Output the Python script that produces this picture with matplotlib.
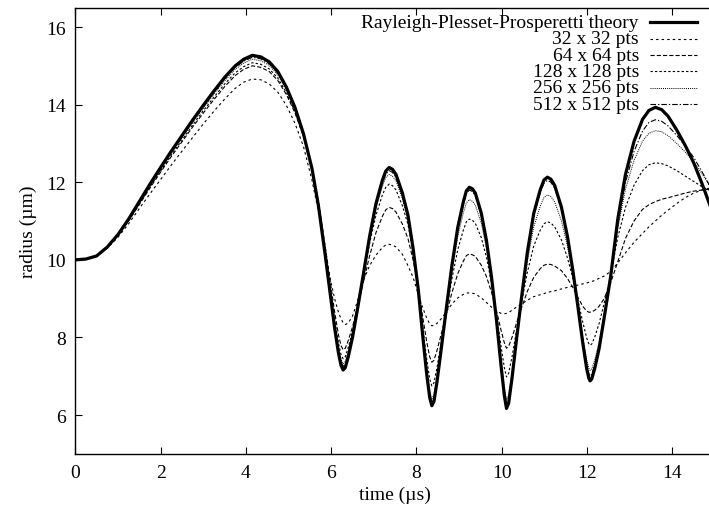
import matplotlib
matplotlib.use("Agg")
import matplotlib.pyplot as plt
from matplotlib.lines import Line2D

plt.rcParams["font.family"] = ["Liberation Serif", "DejaVu Serif"]
plt.rcParams["lines.scale_dashes"] = False

# time (us)
time_us = [
    0.0, 0.25, 0.5, 0.75, 1.0, 1.25, 1.5, 1.75, 2.0, 2.25, 2.5, 2.75, 3.0, 3.25, 3.5, 3.75, 3.95, 4.15,
    4.35, 4.55, 4.75, 4.95, 5.15, 5.35, 5.55, 5.7, 5.85, 5.98, 6.08, 6.17, 6.23, 6.28,
    6.33, 6.4, 6.5, 6.62, 6.75, 6.9, 7.05, 7.2, 7.28, 7.36,
    7.44, 7.52, 7.67, 7.8, 7.92, 8.04, 8.15, 8.24, 8.31, 8.36,
    8.41, 8.48, 8.58, 8.7, 8.83, 8.97, 9.1, 9.17, 9.24,
    9.31, 9.38, 9.52, 9.64, 9.76, 9.88, 9.98, 10.06, 10.11,
    10.16, 10.24, 10.34, 10.46, 10.6, 10.75, 10.9, 10.99, 11.07,
    11.15, 11.24, 11.4, 11.54, 11.67, 11.79, 11.9, 11.99, 12.04, 12.07,
    12.11, 12.18, 12.28, 12.4, 12.55, 12.72, 12.9, 13.1, 13.3, 13.45, 13.6,
    13.75, 13.9, 14.1, 14.3, 14.5, 14.7, 14.85, 15.0,
]

# radius (um)
theory = [
    10.00, 10.02, 10.10, 10.33, 10.65, 11.05, 11.50, 11.95, 12.38, 12.80, 13.20, 13.60, 13.98, 14.35, 14.70, 15.00, 15.17, 15.27,
    15.23, 15.10, 14.85, 14.45, 13.93, 13.25, 12.35, 11.40, 10.20, 9.10, 8.25, 7.60, 7.28, 7.16,
    7.22, 7.50, 8.00, 8.75, 9.60, 10.60, 11.45, 12.05, 12.29, 12.38,
    12.33, 12.20, 11.72, 11.15, 10.30, 9.25, 8.00, 7.05, 6.45, 6.24,
    6.35, 6.85, 7.70, 8.75, 9.85, 10.85, 11.50, 11.78, 11.87,
    11.83, 11.72, 11.20, 10.50, 9.55, 8.40, 7.30, 6.50, 6.17,
    6.30, 6.95, 7.90, 9.00, 10.20, 11.20, 11.80, 12.06, 12.13,
    12.08, 11.92, 11.35, 10.60, 9.70, 8.75, 7.85, 7.20, 6.95, 6.88,
    6.93, 7.20, 7.70, 8.50, 9.55, 11.05, 12.20, 13.05, 13.62, 13.85, 13.93,
    13.87, 13.70, 13.35, 12.95, 12.50, 11.95, 11.50, 11.05,
]
res_32 = [
    10.00, 10.03, 10.10, 10.30, 10.58, 10.93, 11.32, 11.70, 12.07, 12.44, 12.80, 13.15, 13.50, 13.83, 14.14, 14.42, 14.58, 14.66,
    14.64, 14.53, 14.32, 13.98, 13.52, 12.92, 12.05, 11.25, 10.35, 9.50, 9.00, 8.65, 8.48, 8.38,
    8.33, 8.37, 8.55, 8.95, 9.45, 9.85, 10.12, 10.32, 10.38, 10.40,
    10.38, 10.33, 10.14, 9.85, 9.55, 9.12, 8.75, 8.50, 8.35, 8.30,
    8.31, 8.36, 8.48, 8.66, 8.86, 9.02, 9.11, 9.14, 9.15,
    9.14, 9.12, 9.02, 8.90, 8.78, 8.68, 8.62, 8.61, 8.62,
    8.64, 8.70, 8.78, 8.86, 8.96, 9.05, 9.10, 9.13, 9.16,
    9.18, 9.20, 9.25, 9.29, 9.32, 9.35, 9.38, 9.40, 9.42, 9.43,
    9.44, 9.47, 9.52, 9.58, 9.70, 9.92, 10.18, 10.45, 10.68, 10.85, 11.00,
    11.15, 11.28, 11.45, 11.60, 11.72, 11.80, 11.84, 11.86,
]
res_64 = [
    10.00, 10.02, 10.09, 10.31, 10.62, 11.00, 11.42, 11.85, 12.26, 12.66, 13.04, 13.42, 13.78, 14.13, 14.46, 14.75, 14.91, 15.00,
    14.96, 14.85, 14.62, 14.26, 13.79, 13.18, 12.36, 11.51, 10.42, 9.43, 8.66, 8.07, 7.79, 7.68,
    7.72, 7.92, 8.27, 8.80, 9.40, 10.10, 10.70, 11.12, 11.29, 11.35,
    11.32, 11.23, 10.92, 10.55, 10.00, 9.32, 8.50, 7.89, 7.50, 7.36,
    7.41, 7.66, 8.08, 8.60, 9.15, 9.65, 9.97, 10.11, 10.15,
    10.13, 10.09, 9.86, 9.57, 9.16, 8.67, 8.20, 7.86, 7.72,
    7.77, 8.00, 8.35, 8.75, 9.19, 9.55, 9.77, 9.86, 9.89,
    9.88, 9.84, 9.72, 9.52, 9.28, 9.02, 8.80, 8.68, 8.65, 8.65,
    8.66, 8.70, 8.80, 9.00, 9.40, 9.95, 10.55, 11.00, 11.30, 11.42, 11.50,
    11.56, 11.60, 11.66, 11.72, 11.77, 11.80, 11.82, 11.84,
]
res_128 = [
    10.00, 10.02, 10.10, 10.32, 10.63, 11.01, 11.45, 11.88, 12.29, 12.70, 13.08, 13.47, 13.84, 14.19, 14.53, 14.82, 14.98, 15.08,
    15.04, 14.92, 14.68, 14.31, 13.82, 13.18, 12.33, 11.44, 10.31, 9.27, 8.47, 7.86, 7.56, 7.45,
    7.50, 7.74, 8.17, 8.82, 9.55, 10.42, 11.15, 11.67, 11.87, 11.95,
    11.91, 11.80, 11.39, 10.91, 10.19, 9.30, 8.24, 7.44, 6.93, 6.75,
    6.83, 7.22, 7.87, 8.67, 9.51, 10.27, 10.77, 10.98, 11.05,
    11.02, 10.94, 10.57, 10.07, 9.39, 8.57, 7.79, 7.22, 6.98,
    7.07, 7.50, 8.14, 8.88, 9.68, 10.36, 10.76, 10.93, 10.98,
    10.95, 10.85, 10.51, 10.05, 9.51, 8.93, 8.39, 7.99, 7.84, 7.80,
    7.83, 8.01, 8.35, 8.88, 9.58, 10.58, 11.35, 11.92, 12.30, 12.45, 12.50,
    12.48, 12.42, 12.30, 12.16, 12.02, 11.88, 11.80, 11.72,
]
res_256 = [
    10.00, 10.02, 10.10, 10.32, 10.64, 11.03, 11.47, 11.91, 12.33, 12.75, 13.14, 13.53, 13.90, 14.27, 14.61, 14.91, 15.07, 15.17,
    15.13, 15.01, 14.76, 14.38, 13.87, 13.21, 12.34, 11.42, 10.26, 9.20, 8.37, 7.75, 7.44, 7.32,
    7.38, 7.64, 8.11, 8.81, 9.60, 10.54, 11.33, 11.89, 12.12, 12.20,
    12.15, 12.03, 11.58, 11.04, 10.24, 9.25, 8.08, 7.18, 6.62, 6.42,
    6.52, 6.98, 7.75, 8.71, 9.71, 10.62, 11.21, 11.47, 11.55,
    11.51, 11.41, 10.94, 10.31, 9.45, 8.41, 7.42, 6.70, 6.40,
    6.51, 7.09, 7.93, 8.90, 9.96, 10.85, 11.38, 11.61, 11.67,
    11.63, 11.49, 11.00, 10.35, 9.58, 8.76, 7.98, 7.43, 7.21, 7.15,
    7.19, 7.43, 7.87, 8.57, 9.49, 10.81, 11.82, 12.56, 13.06, 13.26, 13.33,
    13.30, 13.20, 13.00, 12.78, 12.52, 12.21, 11.95, 11.70,
]
res_512 = [
    10.00, 10.02, 10.10, 10.33, 10.64, 11.04, 11.49, 11.93, 12.36, 12.77, 13.17, 13.57, 13.94, 14.31, 14.66, 14.96, 15.12, 15.22,
    15.18, 15.05, 14.81, 14.41, 13.90, 13.23, 12.35, 11.42, 10.24, 9.15, 8.32, 7.68, 7.37, 7.25,
    7.31, 7.58, 8.06, 8.79, 9.61, 10.58, 11.40, 11.98, 12.21, 12.30,
    12.25, 12.12, 11.66, 11.10, 10.27, 9.24, 8.02, 7.09, 6.51, 6.30,
    6.41, 6.90, 7.73, 8.75, 9.83, 10.80, 11.44, 11.71, 11.80,
    11.76, 11.65, 11.15, 10.47, 9.54, 8.42, 7.35, 6.57, 6.25,
    6.38, 7.01, 7.93, 9.00, 10.17, 11.14, 11.73, 11.98, 12.05,
    12.00, 11.85, 11.30, 10.58, 9.71, 8.80, 7.93, 7.31, 7.07, 7.00,
    7.05, 7.30, 7.77, 8.52, 9.50, 10.91, 11.99, 12.79, 13.32, 13.54, 13.61,
    13.57, 13.45, 13.21, 12.94, 12.64, 12.26, 11.96, 11.65,
]

labels = [
    "Rayleigh-Plesset-Prosperetti theory",
    "32 x 32 pts",
    "64 x 64 pts",
    "128 x 128 pts",
    "256 x 256 pts",
    "512 x 512 pts",
]
series = [theory, res_32, res_64, res_128, res_256, res_512]
styles = [
    dict(lw=2.3, ls="-"),
    dict(lw=0.8, dashes=(1.8, 2.2)),
    dict(lw=0.8, dashes=(3.0, 1.5)),
    dict(lw=0.8, dashes=(1.7, 1.5)),
    dict(lw=0.7, dashes=(0.7, 0.8)),
    dict(lw=0.8, dashes=(4.0, 1.4, 1.0, 1.4)),
]

fig = plt.figure(figsize=(7.09, 5.10), dpi=100)
ax = fig.add_axes([0.1062, 0.1082, 0.9023, 0.8749])

# thin lines first, theory on top
for vals, st in list(zip(series, styles))[::-1]:
    ax.plot(time_us, vals, color="black", solid_joinstyle="round", **st)

ax.set_xlim(0, 15)
ax.set_ylim(5, 16.5)
ax.set_xticks([0, 2, 4, 6, 8, 10, 12, 14])
ax.set_yticks([6, 8, 10, 12, 14, 16])
ax.tick_params(direction="in", length=5, width=0.8, top=True, right=False,
               labelsize=14, color="black")
ax.tick_params(axis="x", pad=7)
ax.tick_params(axis="y", pad=6.5)
for sp in ax.spines.values():
    sp.set_linewidth(1.0)

ax.set_xlabel("time (µs)", fontsize=14, labelpad=4)
ax.set_ylabel("radius (µm)", fontsize=14, labelpad=7)

# gnuplot style key: text right aligned, sample line on the right
text_x = 0.881
line_x0, line_x1 = 0.898, 0.972
row_y = [0.9671, 0.9304, 0.8937, 0.8569, 0.8202, 0.7834]
for lab, st, yy in zip(labels, styles, row_y):
    ax.text(text_x, yy, lab, transform=ax.transAxes, ha="right", va="center",
            fontsize=14)
    ax.add_line(Line2D([line_x0, line_x1], [yy, yy], transform=ax.transAxes,
                       color="black", **st))

fig.savefig("out.png", dpi=100)
